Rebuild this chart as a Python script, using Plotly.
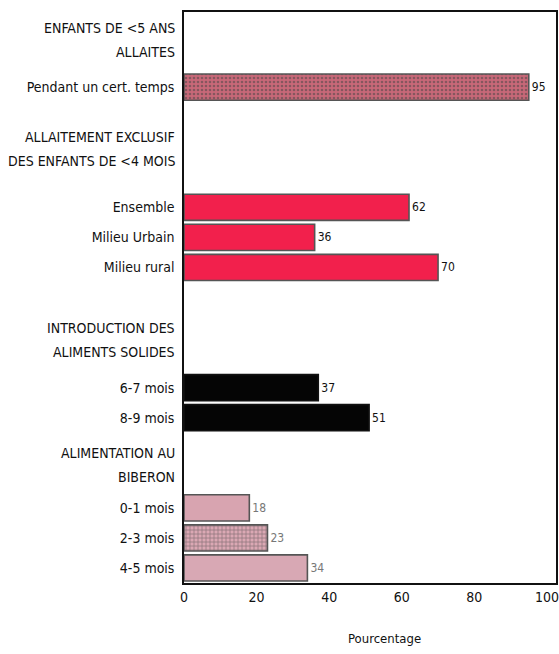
import plotly.graph_objects as go

# ---- data ----
categories = ["Pendant un cert. temps", "Ensemble", "Milieu Urbain", "Milieu rural",
              "6-7 mois", "8-9 mois", "0-1 mois", "2-3 mois", "4-5 mois"]
values = [95, 62, 36, 70, 37, 51, 18, 23, 34]
group_titles = [["ENFANTS DE <5 ANS", "ALLAITES"],
                ["ALLAITEMENT EXCLUSIF", "DES ENFANTS DE <4 MOIS"],
                ["INTRODUCTION DES", "ALIMENTS SOLIDES"],
                ["ALIMENTATION AU", "BIBERON"]]
x_ticks = [0, 20, 40, 60, 80, 100]
x_title = "Pourcentage"

# ---- layout of rows (top to bottom), None = spacer ----
slots = [None, None, "Pendant un cert. temps", None, None, None,
         "Ensemble", "Milieu Urbain", "Milieu rural", None, None, None,
         "6-7 mois", "8-9 mois", None, None, "0-1 mois", "2-3 mois", "4-5 mois"]
header_pos = [0.43, 4.06, 10.42, 14.57]
ypos = [slots.index(c) for c in categories]

# ---- styles ----
fill = ["#c86878", "#f2204c", "#f2204c", "#f2204c", "#050505", "#050505",
        "#d8a4b0", "#dba8b4", "#d8a8b4"]
edge = ["#555555", "#555555", "#555555", "#555555", "#111111", "#111111",
        "#555555", "#555555", "#555555"]
pat = [".", "", "", "", "", "", "", "+", ""]
pat_fg = ["#a84858", "#f2204c", "#f2204c", "#f2204c", "#050505", "#050505",
          "#d8a4b0", "#f4e4e8", "#d8a8b4"]
lbl_col = ["#111111"] * 6 + ["#777777"] * 3

FONT = "DejaVu Sans Condensed, Liberation Sans Narrow, sans-serif"

fig = go.Figure()
fig.add_trace(go.Bar(
    x=values, y=ypos, orientation="h", width=0.87,
    marker=dict(color=fill, line=dict(color=edge, width=1.6),
                pattern=dict(shape=pat, fgcolor=pat_fg, bgcolor=fill,
                             size=4, solidity=0.35)),
    text=[str(v) for v in values], textposition="outside",
    textfont=dict(family=FONT, size=12, color=lbl_col),
    cliponaxis=False, showlegend=False, hoverinfo="skip",
))

for lines, p in zip(group_titles, header_pos):
    for k, line in enumerate(lines):
        fig.add_annotation(x=0, xref="paper", y=p, yref="y", text=line,
                           xanchor="right", yanchor="middle", align="right",
                           xshift=-7, yshift=12 - 24 * k, showarrow=False,
                           font=dict(family=FONT, size=14, color="#111111"))

fig.add_annotation(x=0.54, xref="paper", y=-0.098, yref="paper", text=x_title,
                   showarrow=False, xanchor="center", yanchor="middle",
                   font=dict(family=FONT, size=13, color="#111111"))

fig.update_layout(
    width=559, height=654,
    margin=dict(l=184, r=3, t=12, b=71, autoexpand=False),
    paper_bgcolor="white", plot_bgcolor="white",
    font=dict(family=FONT, size=14, color="#111111"),
    xaxis=dict(range=[0, 102.5], tickvals=x_ticks, showgrid=False, zeroline=False,
               showline=True, linecolor="#111111", linewidth=2, mirror=True,
               ticks="", tickfont=dict(family=FONT, size=14), automargin=False),
    yaxis=dict(range=[18.5, -0.5], tickvals=ypos, ticktext=categories,
               showgrid=False, zeroline=False, showline=True,
               linecolor="#111111", linewidth=1.5, mirror=True,
               ticks="", tickfont=dict(family=FONT, size=14),
               ticklabelstandoff=5, automargin=False),
)

fig.write_html("out.html", config={"displayModeBar": False},
               post_script="document.body.style.margin='0';"
                           "document.body.style.overflow='hidden';")
